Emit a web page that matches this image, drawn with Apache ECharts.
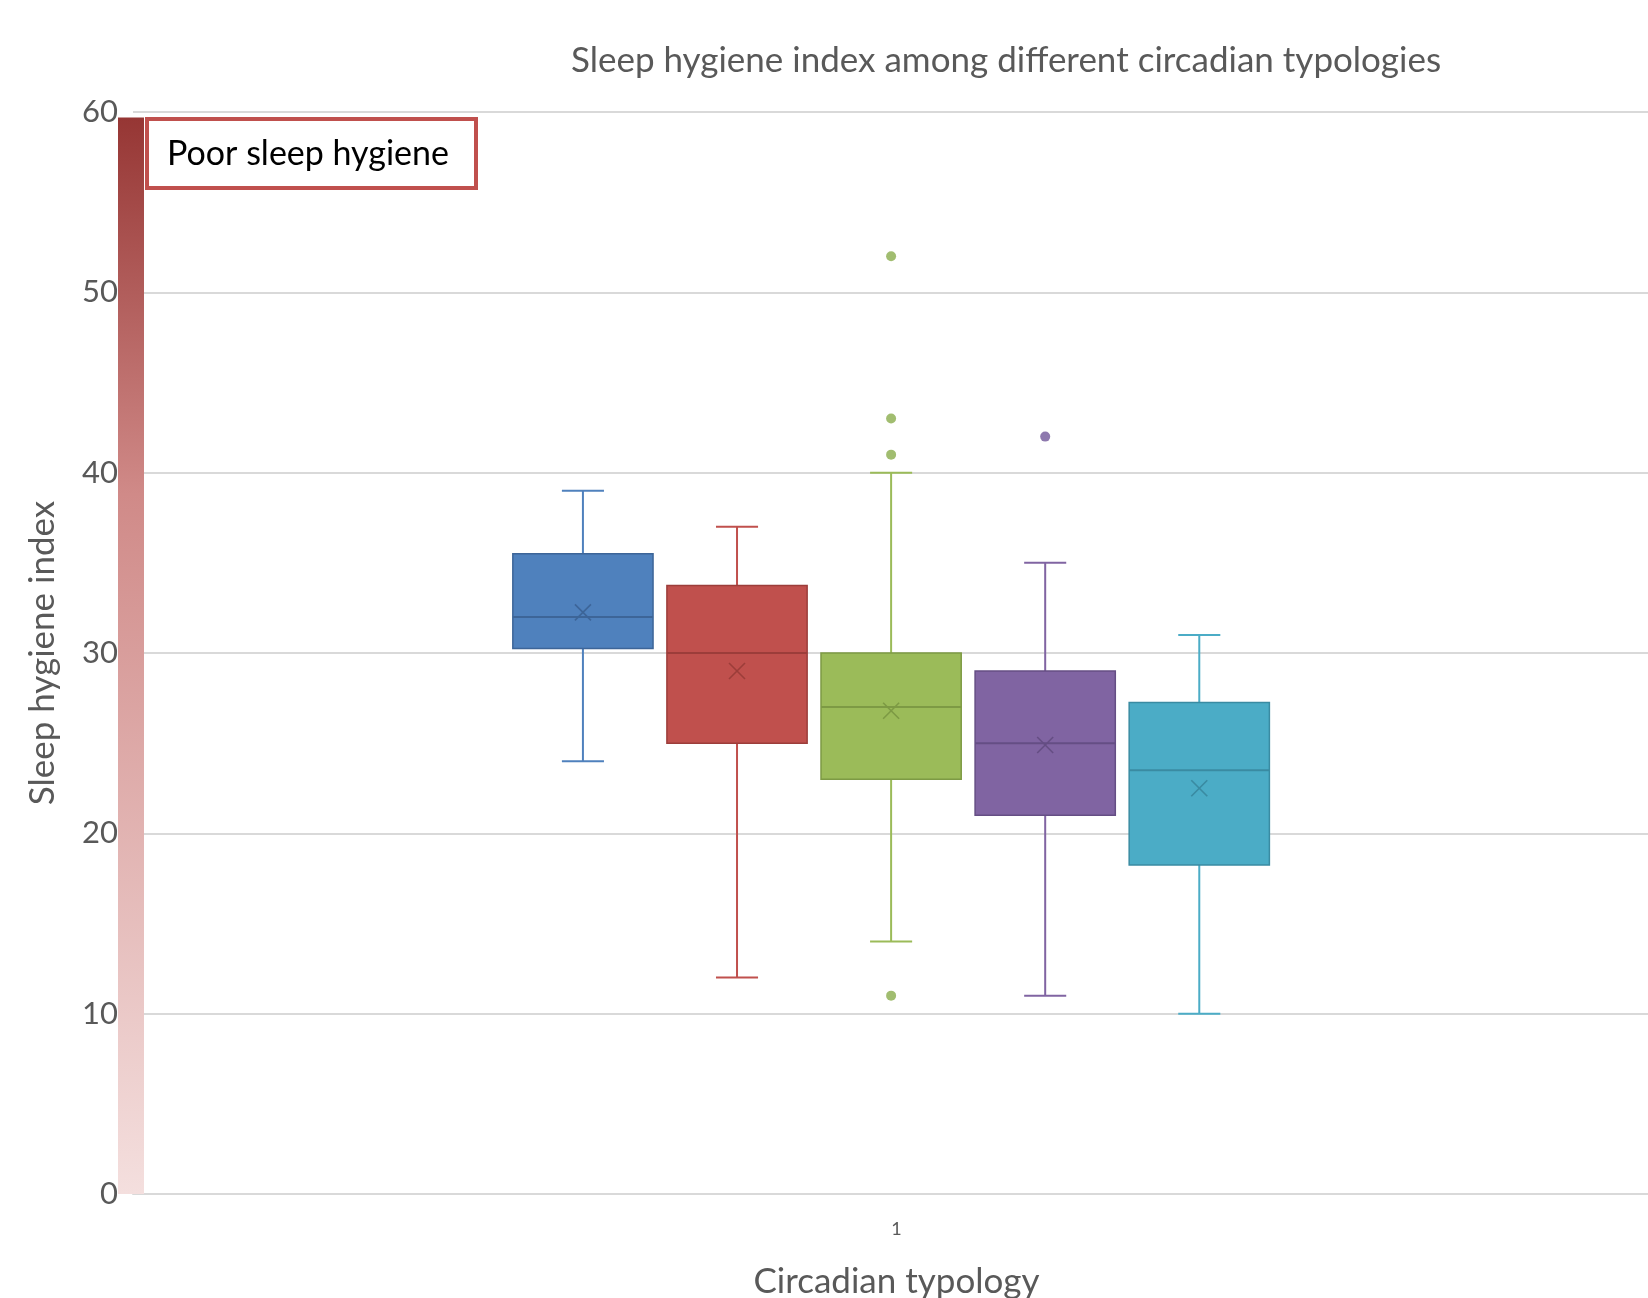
<!DOCTYPE html>
<html>
<head>
<meta charset="utf-8">
<title>Sleep hygiene index</title>
<script src="https://cdn.jsdelivr.net/npm/echarts@6/dist/echarts.min.js"></script>
<style>
  html, body { margin: 0; padding: 0; background: #fff; }
  #main { width: 1648px; height: 1298px; }
</style>
</head>
<body>
<div id="main"></div>
<script>
// data
const categories = ['1']
const boxX = [1, 2, 3, 4, 5]
const mins = [24, 12, 14, 11, 10]
const q1s = [30.25, 25, 23, 21, 18.25]
const medians = [32, 30, 27, 25, 23.5]
const q3s = [35.5, 33.75, 30, 29, 27.25]
const maxs = [39, 37, 40, 35, 31]
const means = [32.25, 29, 26.8, 24.9, 22.5]
const outliers = [[], [], [52, 43, 41, 11], [42], []]
const yTicks = [0, 10, 20, 30, 40, 50, 60]
const poorTop = [59.7]

const fills = ['#4f81bd', '#c0504d', '#9bbb59', '#8064a2', '#4bacc6']
const darks = ['#3d6598', '#9c3d3a', '#7d9a44', '#654e84', '#3a8ba2']
const dots = ['#4f81bd', '#c0504d', '#8aad4c', '#72579a', '#4bacc6']
const font = 'Lato, "Open Sans", sans-serif'
const grey = '#595959'

let boxData = boxX.map((x, i) => [x, mins[i], q1s[i], medians[i], q3s[i], maxs[i], means[i]])

let outlierData = []
outliers.forEach((list, i) => {
  list.forEach(v => {
    outlierData.push({ value: [boxX[i], v], itemStyle: { color: dots[i] } })
  })
})

function renderBox (params, api) {
  const i = params.dataIndex
  const x = api.value(0)
  const lo = api.coord([x, api.value(1)])
  const q1 = api.coord([x, api.value(2)])
  const med = api.coord([x, api.value(3)])
  const q3 = api.coord([x, api.value(4)])
  const hi = api.coord([x, api.value(5)])
  const mean = api.coord([x, api.value(6)])
  const w = api.size([0.91, 0])[0]
  const cap = w * 0.15
  const cx = lo[0]
  const xs = 8
  const line = (x1, y1, x2, y2, color, lw) => ({
    type: 'line',
    shape: { x1: x1, y1: y1, x2: x2, y2: y2 },
    style: { stroke: color, lineWidth: lw }
  })
  return {
    type: 'group',
    children: [
      line(cx, hi[1], cx, lo[1], fills[i], 2),
      line(cx - cap, hi[1], cx + cap, hi[1], fills[i], 2),
      line(cx - cap, lo[1], cx + cap, lo[1], fills[i], 2),
      {
        type: 'rect',
        shape: { x: cx - w / 2, y: q3[1], width: w, height: q1[1] - q3[1] },
        style: { fill: fills[i], stroke: darks[i], lineWidth: 1.5 }
      },
      line(cx - w / 2, med[1], cx + w / 2, med[1], darks[i], 2),
      line(cx - xs, mean[1] - xs, cx + xs, mean[1] + xs, darks[i], 1.6),
      line(cx - xs, mean[1] + xs, cx + xs, mean[1] - xs, darks[i], 1.6)
    ]
  }
}

function renderPoorBar (params, api) {
  const top = api.coord([0, api.value(1)])
  const bottom = api.coord([0, 0])
  const left = params.coordSys.x - 15
  return {
    type: 'rect',
    shape: { x: left, y: top[1], width: 26, height: bottom[1] - top[1] },
    style: {
      fill: new echarts.graphic.LinearGradient(0, 0, 0, 1, [
        { offset: 0, color: '#963634' },
        { offset: 0.35, color: '#d08a88' },
        { offset: 1, color: '#f4dfde' }
      ])
    }
  }
}

let myChart = echarts.init(document.getElementById('main'))
let option = {
  animation: false,
  backgroundColor: '#fff',
  title: {
    text: 'Sleep hygiene index among different circadian typologies',
    left: 566,
    top: 38,
    textStyle: { fontFamily: font, fontSize: 35, fontWeight: 'normal', color: grey }
  },
  grid: { left: 133, right: -12, top: 112, bottom: 104, outerBoundsMode: 'none' },
  xAxis: [
    {
      type: 'category',
      data: categories,
      name: 'Circadian typology',
      nameLocation: 'middle',
      nameGap: 70,
      nameTextStyle: { fontFamily: font, fontSize: 35, color: grey },
      axisLine: { lineStyle: { color: '#d9d9d9', width: 2 } },
      axisTick: { show: false },
      axisLabel: { fontFamily: font, fontSize: 18, color: grey, margin: 26 },
      splitLine: { show: false }
    },
    {
      type: 'value',
      min: -1.92,
      max: 7.99,
      show: false
    }
  ],
  yAxis: {
    type: 'value',
    min: yTicks[0],
    max: yTicks[yTicks.length - 1],
    interval: yTicks[1] - yTicks[0],
    name: 'Sleep hygiene index',
    nameLocation: 'middle',
    nameGap: 73,
    nameTextStyle: { fontFamily: font, fontSize: 35, color: grey },
    axisLine: { show: false },
    axisTick: { show: false },
    axisLabel: { fontFamily: font, fontSize: 31, color: grey, margin: 15 },
    splitLine: { lineStyle: { color: '#d9d9d9', width: 2 } }
  },
  series: [
    {
      type: 'custom',
      xAxisIndex: 1,
      renderItem: renderBox,
      encode: { x: 0, y: [1, 2, 3, 4, 5, 6] },
      data: boxData,
      z: 3
    },
    {
      type: 'scatter',
      xAxisIndex: 1,
      symbolSize: 10,
      data: outlierData,
      z: 4
    },
    {
      type: 'custom',
      xAxisIndex: 1,
      renderItem: renderPoorBar,
      clip: false,
      encode: { x: 0, y: 1 },
      data: [[0, poorTop[0]]],
      z: 5
    }
  ],
  graphic: [
    {
      type: 'group',
      left: 145,
      top: 117,
      z: 10,
      children: [
        {
          type: 'rect',
          shape: { x: 0, y: 0, width: 329, height: 69 },
          style: { fill: '#fff', stroke: '#c0504d', lineWidth: 4 }
        },
        {
          type: 'text',
          x: 20,
          y: 35,
          style: {
            text: 'Poor sleep hygiene',
            font: '34px ' + font,
            fill: '#000',
            verticalAlign: 'middle'
          }
        }
      ]
    }
  ]
}
myChart.setOption(option)
</script>
</body>
</html>
